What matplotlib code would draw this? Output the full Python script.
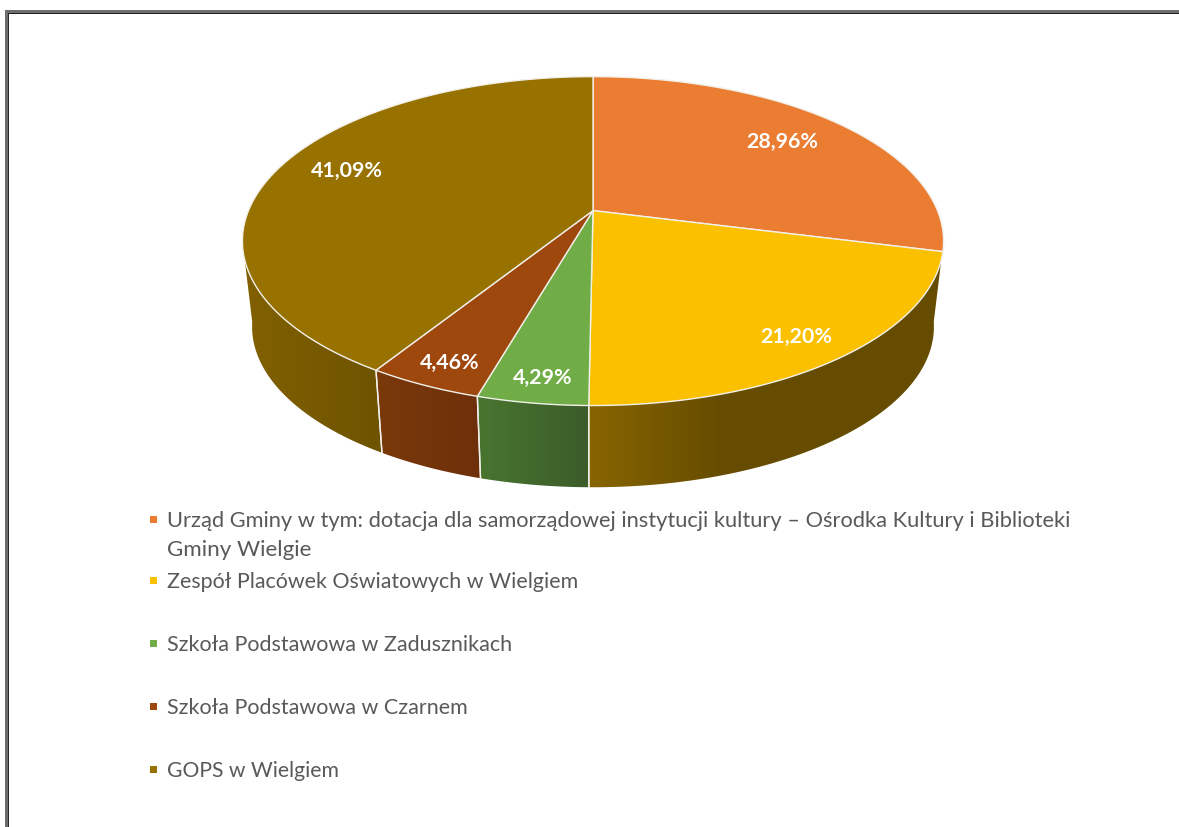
import numpy as np
import matplotlib
matplotlib.use("Agg")
import matplotlib.pyplot as plt
from matplotlib.colors import to_rgb
from matplotlib.patches import Polygon, Rectangle

categories = [
    "Urząd Gminy w tym: dotacja dla samorządowej instytucji kultury – Ośrodka Kultury i Biblioteki\nGminy Wielgie",
    "Zespół Placówek Oświatowych w Wielgiem",
    "Szkoła Podstawowa w Zadusznikach",
    "Szkoła Podstawowa w Czarnem",
    "GOPS w Wielgiem",
]
values = [28.96, 21.20, 4.29, 4.46, 41.09]
value_labels = ["28,96%", "21,20%", "4,29%", "4,46%", "41,09%"]
colors = ["#EB7D33", "#FBC000", "#70AD47", "#9E480E", "#977200"]

# side-wall shading of each slice (left colour, right colour, gradient span in px)
side_colors = [
    ("#8E5A2A", "#8E5A2A", 0, 1),
    ("#886500", "#654C00", 589, 725),
    ("#47752F", "#3C5C2A", 480, 589),
    ("#7A390B", "#6E300A", 380, 482),
    ("#806000", "#6E5300", 250, 380),
]
label_xy = [(782, 142), (796, 337), (543, 378), (450, 363), (347, 171)]
legend_y = [521, 582, 645, 708, 771]
legend_sizes = [(15.75, 16.1), (15.4,), (15.5,), (15.5,), (15.2,)]
LINE2_DY = 29

# perspective disc model
CX, CY, K, B, A = 593.0, 211.6, 344.5, 158.8, 0.1853
CX2, CY2, K2, B2 = 593.0, 298.0, 335.0, 155.0


def top(t):
    x, y = np.sin(t), np.cos(t)
    d = 1 + A * y
    return np.column_stack([CX + K * x / d, CY - B * y / d])


def bottom(t):
    x, y = np.sin(t), np.cos(t)
    d = 1 + A * y
    return np.column_stack([CX2 + K2 * x / d, CY2 - B2 * y / d])


fig = plt.figure(figsize=(11.79, 8.28), dpi=100, facecolor="white")
ax = fig.add_axes([0, 0, 1, 1])
ax.set_xlim(0, 1179)
ax.set_ylim(828, 0)
ax.axis("off")

# outer frame
ax.add_patch(Rectangle((5, 11), 1200, 3, fc="#6E6E6E", ec="none", zorder=1))
ax.add_patch(Rectangle((5, 14), 1200, 1.4, fc="#1E1E1E", ec="none", zorder=1))
ax.add_patch(Rectangle((5, 11), 3, 830, fc="#6E6E6E", ec="none", zorder=1))
ax.add_patch(Rectangle((8, 14), 1.2, 830, fc="#2A2A2A", ec="none", zorder=1))

edges = np.deg2rad(np.cumsum([0] + values) / 100 * 360)
SIDE_MIN, SIDE_MAX = np.deg2rad(107), np.deg2rad(253)
BOT_MIN, BOT_MAX = np.deg2rad(99), np.deg2rad(261)
EDGE = "#F2F0EA"

# side walls
for i in range(len(values)):
    t0, t1 = max(edges[i], SIDE_MIN), min(edges[i + 1], SIDE_MAX)
    if t1 <= t0:
        continue
    t = np.linspace(t0, t1, 120)
    b0 = BOT_MIN if t0 == SIDE_MIN else t0
    b1 = BOT_MAX if t1 == SIDE_MAX else t1
    tb = np.linspace(b0, b1, 120)
    pts = np.vstack([top(t), bottom(tb[::-1])])
    c0, c1, x0, x1 = side_colors[i]
    xs = np.linspace(0, 1, 256)
    ramp = np.array(to_rgb(c0))[None, :] * (1 - xs[:, None]) + np.array(to_rgb(c1))[None, :] * xs[:, None]
    im = ax.imshow(ramp[None, :, :], extent=(x0, x1, 500, 200), aspect="auto",
                   zorder=2, interpolation="bilinear")
    # extend flat colour beyond the ramp
    for (xa, xb, c) in ((0, x0, c0), (x1, 1179, c1)):
        r = Rectangle((xa, 200), xb - xa, 300, fc=c, ec="none", zorder=2)
        ax.add_patch(r)
        r.set_clip_path(Polygon(pts, transform=ax.transData))
    im.set_clip_path(Polygon(pts, transform=ax.transData))
    # dividers between side walls
    for tt in (t0, t1):
        if SIDE_MIN < tt < SIDE_MAX:
            a, b = top(np.array([tt]))[0], bottom(np.array([tt]))[0]
            ax.plot([a[0], b[0]], [a[1], b[1]], color=EDGE, lw=1.0, zorder=3)

ax.set_xlim(0, 1179)
ax.set_ylim(828, 0)

# top face
for i, col in enumerate(colors):
    t = np.linspace(edges[i], edges[i + 1], 200)
    pts = np.vstack([[CX, CY], top(t)])
    ax.add_patch(Polygon(pts, closed=True, fc=col, ec=EDGE, lw=1.0, zorder=4, joinstyle="round"))

# value labels
for (x, y), s in zip(label_xy, value_labels):
    ax.text(x, y, s, color="white", fontsize=15.4, fontweight="bold", family="Lato",
            ha="center", va="center", zorder=6)

# legend
for name, col, y, sizes in zip(categories, colors, legend_y, legend_sizes):
    ax.add_patch(Rectangle((149.5, y - 4.5), 7, 7, fc=col, ec="none", zorder=5))
    for j, line in enumerate(name.split("\n")):
        ax.text(167, y + j * LINE2_DY, line, color="#595959", fontsize=sizes[j], family="Lato",
                ha="left", va="center", zorder=5)

fig.savefig("out.png", dpi=100, facecolor="white")
